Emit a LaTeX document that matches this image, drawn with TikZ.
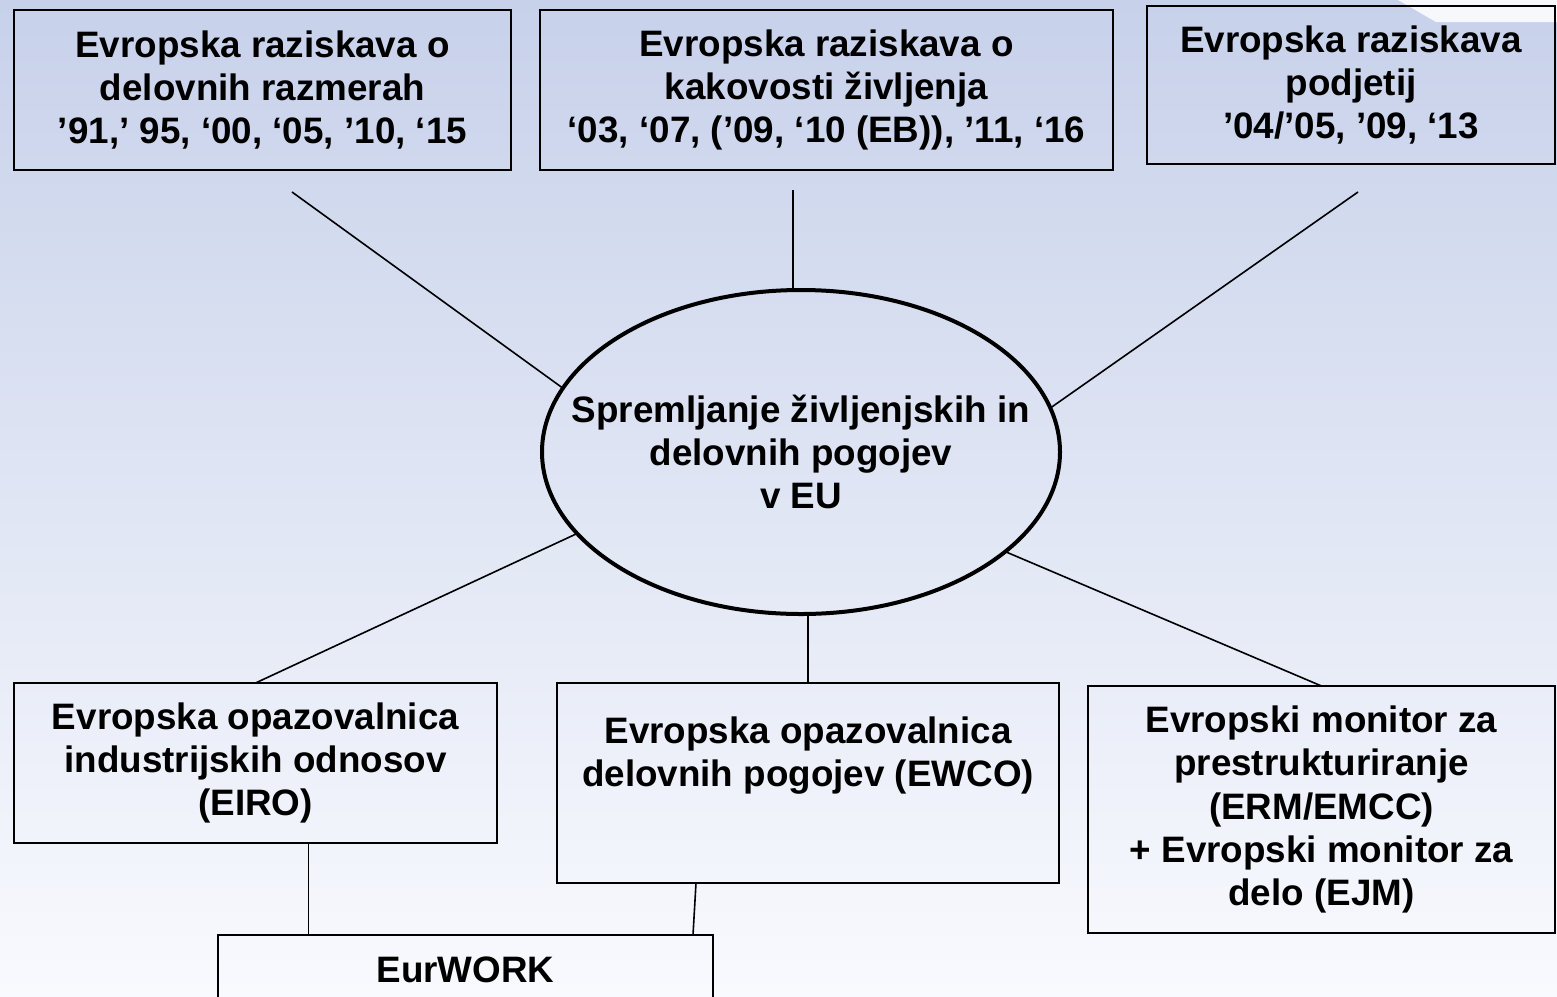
\documentclass[tikz,border=0pt]{standalone}
\usepackage{fontspec}
\setmainfont{Liberation Sans}
\usetikzlibrary{positioning, shapes}
\definecolor{bgtop}{RGB}{199,209,234}
\definecolor{bgbot}{RGB}{249,250,254}

\begin{document}
\begin{tikzpicture}[x=0.5pt, y=-0.5pt, auto, inner sep=0pt, outer sep=0pt,
      font=\fontsize{18.4}{21.6}\selectfont\bfseries,
      box/.style={rectangle, draw, line width=1pt, align=center},
      hub/.style={ellipse, draw, line width=2pt},
      link/.style={draw, line width=0.8pt}]
      % background
      \useasboundingbox (0,0) rectangle (1557,996);
      \clip (0,0) rectangle (1557,996);
      \shade[top color=bgtop, bottom color=bgbot] (0,0) rectangle (1557,996);
      \fill[white, opacity=0.85] (1398,0) -- (1557,0) -- (1557,22) -- (1436,22) -- cycle;
      % surveys
      \node[box, minimum width=248.5pt, minimum height=80pt](r_1) at(262.5,90)
        {Evropska raziskava o\\delovnih razmerah\\’91,’ 95, ‘00, ‘05, ’10, ‘15};
      \node[box, minimum width=286.5pt, minimum height=80pt](r_2) at(826.5,90)
        {Evropska raziskava o\\kakovosti življenja\\‘03, ‘07, (’09, ‘10 (EB)), ’11, ‘16};
      \node[box, minimum width=204pt, minimum height=79pt](r_3) at(1351,85)
        {Evropska raziskava\\podjetij\\’04/’05, ’09, ‘13};
      % centre
      \node[hub, minimum width=259pt, minimum height=162pt](eu) at(801,452) {};
      \node[align=center](eu_text) at(eu.center)
        {Spremljanje življenjskih in\\delovnih pogojev\\v EU};
      \coordinate (c_1) at(292,192);
      \coordinate (c_2) at(793,190);
      \coordinate (c_3) at(1358,192);
      \path[link] (c_1) edge (eu.165);
      \path[link] (c_2) edge (c_2 |- eu.north);
      \path[link] (c_3) edge (eu.10);
      % observatories
      \node[box, minimum width=241.5pt, minimum height=80pt](o_1) at(255.5,763)
        {Evropska opazovalnica\\industrijskih odnosov\\(EIRO)};
      \node[box, minimum width=251pt, minimum height=100pt](o_2) at(808,783)
        {Evropska opazovalnica\\delovnih pogojev (EWCO)\\[9.5pt]\mbox{}};
      \node[box, minimum width=233.5pt, minimum height=123.5pt](o_3) at(1321.5,809.5)
        {Evropski monitor za\\prestrukturiranje\\(ERM/EMCC)\\+ Evropski monitor za\\delo (EJM)};
      \path[link] (eu.200) edge (o_1.north);
      \path[link] (o_2.north |- eu.south) edge (o_2.north);
      \path[link] (eu.334.7) edge (o_3.north);
      % EurWORK
      \node[box, minimum width=247.5pt, minimum height=35pt](ew) at(465.5,970) {EurWORK};
      \path[link] ([xshift=26.5pt]o_1.south) edge ([xshift=26.5pt]o_1.south |- ew.north);
      \path[link] ([xshift=-56pt]o_2.south) edge ([xshift=-10pt]ew.north east);
\end{tikzpicture}
\end{document}
